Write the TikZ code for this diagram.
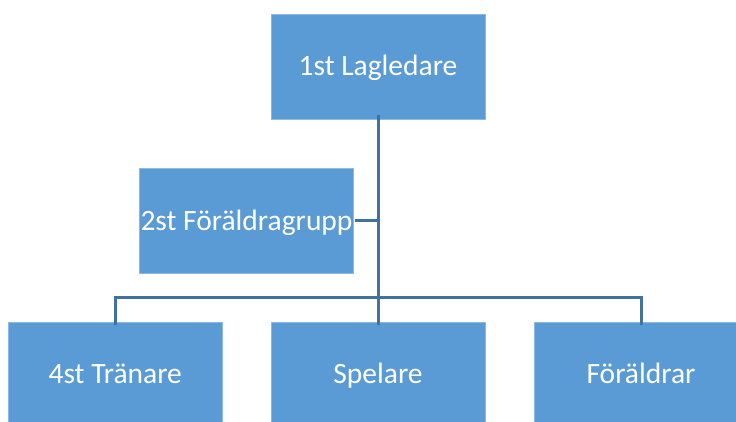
\documentclass[tikz,border=0pt]{standalone}
\usepackage{fontspec}
\setmainfont{Carlito}
\definecolor{boxblue}{HTML}{5B9BD5}
\definecolor{lineblue}{HTML}{41719C}
\begin{document}
\begin{tikzpicture}[x=1pt,y=-1pt,
  orgbox/.style={fill=boxblue,draw=boxblue!70!white,line width=0.6pt,minimum width=214pt,minimum height=105pt,inner sep=0pt,text=white,font=\fontsize{29.5}{34}\selectfont,text height=18.5pt,text depth=0pt},
  conn/.style={draw=lineblue,line width=3pt}]
\useasboundingbox (0,0) rectangle (736,421);
\begin{scope}
\clip (0,0) rectangle (736,421);
\node[orgbox] (top) at (378,66.5) {1st Lagledare};
\node[orgbox,minimum width=214.5pt,minimum height=105.7pt] (grp) at (246.5,220.8) {2st Föräldragrupp};
\node[orgbox] (tr) at (115.2,374.5) {4st Tränare};
\node[orgbox] (sp) at (378,374.5) {Spelare};
\node[orgbox] (fo) at (641,374.5) {Föräldrar};
\coordinate (bus) at (378,297.7);
\draw[conn] ([yshift=4pt]top.south) -- ([yshift=-3pt]sp.north);
\draw[conn] ([yshift=-3pt]tr.north) |- (bus) -| ([yshift=-3pt]fo.north);
\draw[conn] ([xshift=1pt]grp.east) -- (grp.east -| top.south);
\end{scope}
\end{tikzpicture}
\end{document}
